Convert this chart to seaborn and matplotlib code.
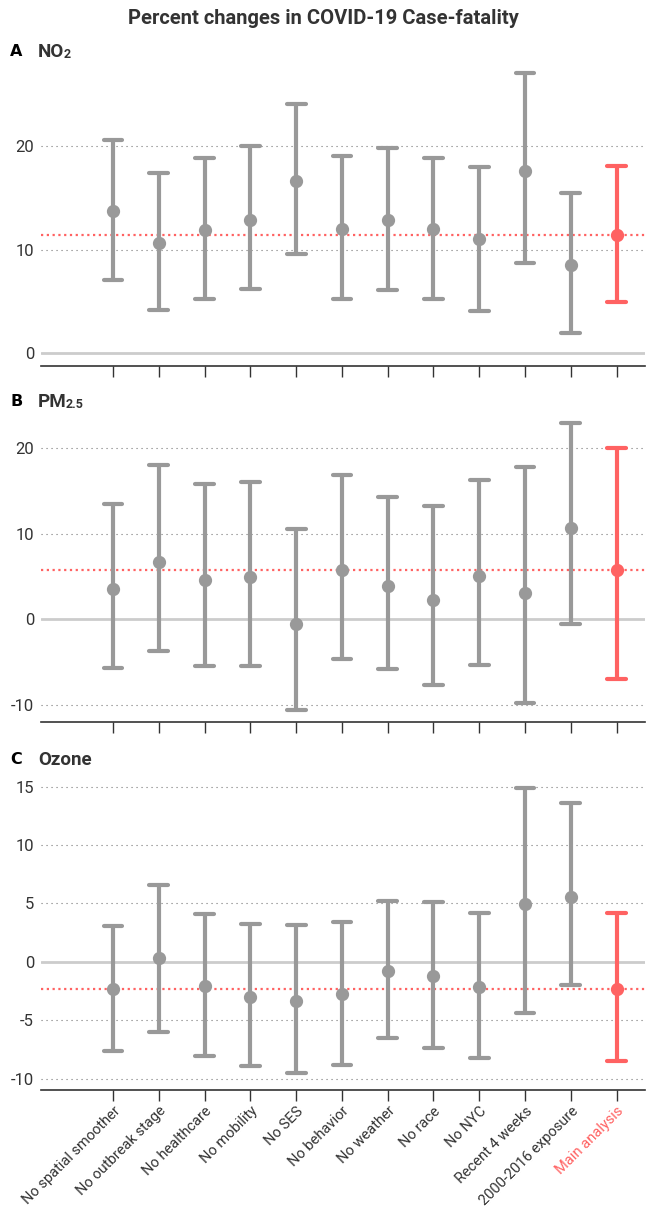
import numpy as np
import pandas as pd
import matplotlib
matplotlib.use("Agg")
import matplotlib.pyplot as plt
import seaborn as sns

# ---------------- data ----------------
categories = ["No spatial smoother", "No outbreak stage", "No healthcare", "No mobility",
              "No SES", "No behavior", "No weather", "No race", "No NYC",
              "Recent 4 weeks", "2000-2016 exposure", "Main analysis"]

no2_est = [13.75, 10.6, 11.9, 12.9, 16.6, 12.0, 12.9, 12.0, 11.0, 17.6, 8.5, 11.4]
no2_lo = [7.1, 4.15, 5.2, 6.15, 9.6, 5.2, 6.1, 5.2, 4.1, 8.7, 1.9, 4.9]
no2_hi = [20.6, 17.4, 18.8, 20.0, 24.1, 19.0, 19.8, 18.8, 18.0, 27.1, 15.5, 18.1]

pm_est = [3.6, 6.7, 4.6, 4.9, -0.5, 5.8, 3.9, 2.3, 5.1, 3.1, 10.7, 5.8]
pm_lo = [-5.65, -3.7, -5.5, -5.5, -10.6, -4.6, -5.8, -7.7, -5.3, -9.75, -0.5, -7.0]
pm_hi = [13.45, 18.0, 15.8, 16.1, 10.6, 16.9, 14.3, 13.25, 16.3, 17.8, 23.0, 20.0]

oz_est = [-2.3, 0.3, -2.1, -3.05, -3.4, -2.8, -0.77, -1.25, -2.2, 4.95, 5.57, -2.3]
oz_lo = [-7.65, -6.05, -8.1, -8.9, -9.55, -8.85, -6.5, -7.36, -8.2, -4.37, -2.0, -8.5]
oz_hi = [3.1, 6.6, 4.1, 3.25, 3.15, 3.4, 5.2, 5.1, 4.15, 14.9, 13.6, 4.15]

panel_letters = ["A", "B", "C"]
panel_names = [("NO", "2"), ("PM", "2.5"), ("Ozone", "")]
panel_ticks = [[0, 10, 20], [-10, 0, 10, 20], [-10, -5, 0, 5, 10, 15]]
title = "Percent changes in COVID-19 Case-fatality"

# ---------------- style ----------------
sns.set_theme(style="white")
plt.rcParams["font.family"] = ["Roboto", "DejaVu Sans"]

GRAY = "#999999"
RED = "#ff6262"
DARK = "#333333"

palette = {c: (RED if c == "Main analysis" else GRAY) for c in categories}

W, H = 646, 1208
fig = plt.figure(figsize=(W / 100, H / 100), dpi=100)

def fy(py):
    return 1 - py / H

left = 41 / W
width = 604 / W
# (top px, bottom px, ylim)
layout = [
    (65, 366, (-1.25, 27.83)),
    (415, 722, (-12.01, 23.9)),
    (780, 1090, (-10.98, 15.56)),
]
data_sets = [(no2_est, no2_lo, no2_hi), (pm_est, pm_lo, pm_hi), (oz_est, oz_lo, oz_hi)]

def interval(v):
    return (np.min(v), np.max(v))

axes = []
for i, ((top, bot, ylim), (est, lo, hi)) in enumerate(zip(layout, data_sets)):
    ax = fig.add_axes([left, fy(bot), width, (bot - top) / H])
    axes.append(ax)
    df = pd.DataFrame({
        "cat": categories * 3,
        "val": list(lo) + list(est) + list(hi),
    })
    # reference lines
    for t in panel_ticks[i]:
        if t == 0:
            ax.axhline(0, color="#cccccc", lw=2.0, zorder=0)
        else:
            ax.axhline(t, color="#777777", lw=0.8, ls=(0, (1, 3.5)), zorder=0)
    main_val = est[categories.index("Main analysis")]
    ax.axhline(main_val, color=RED, lw=1.6, ls=(0, (1, 1.6)), zorder=1)

    sns.pointplot(data=df, x="cat", y="val", hue="cat", order=categories,
                  hue_order=categories, palette=palette, estimator="median",
                  errorbar=interval, capsize=0.41, linestyle="none",
                  markersize=7.5, err_kws={"linewidth": 3.0}, legend=False, ax=ax)
    for coll in ax.lines:
        coll.set_zorder(3)

    ax.set_xlim(-1.572, 11.62)
    ax.set_ylim(*ylim)
    ax.set_yticks(panel_ticks[i])
    ax.set_yticklabels([str(t) for t in panel_ticks[i]], fontsize=12, color=DARK)
    ax.set_xlabel("")
    ax.set_ylabel("")
    ax.set_xticks(range(len(categories)))
    for s in ["left", "right", "top"]:
        ax.spines[s].set_visible(False)
    ax.spines["bottom"].set_color(DARK)
    ax.spines["bottom"].set_linewidth(1.2)
    ax.tick_params(axis="y", length=0, pad=5)
    ax.tick_params(axis="x", direction="out", length=8, width=1, color=DARK,
                   bottom=True, pad=2)
    ax.grid(False)
    if i < 2:
        ax.set_xticklabels([])
    else:
        ax.set_xticklabels(categories, rotation=45, ha="right",
                           rotation_mode="anchor", fontsize=10.5, color=DARK)
        for lab in ax.get_xticklabels():
            if lab.get_text() == "Main analysis":
                lab.set_color(RED)

# title
fig.text(0.5, fy(19), title, ha="center", va="center", fontsize=14.5,
         fontweight="bold", color=DARK)

# panel labels
label_y = [52, 402, 760]
renderer = fig.canvas.get_renderer()
for letter, (name, sub), py in zip(panel_letters, panel_names, label_y):
    fig.text(10 / W, fy(py), letter, ha="left", va="center", fontsize=11.5,
             fontweight="bold", color="black", family=["DejaVu Sans"])
    t = fig.text(38 / W, fy(py), name, ha="left", va="center", fontsize=13.5,
                 fontweight="bold", color=DARK)
    if sub:
        bb = t.get_window_extent(renderer=renderer)
        x1 = (bb.x1 - 1.0) / W
        fig.text(x1, bb.y0 / H, sub, ha="left", va="bottom",
                 fontsize=9, fontweight="bold", color=DARK)

fig.savefig("out.png", dpi=100)
